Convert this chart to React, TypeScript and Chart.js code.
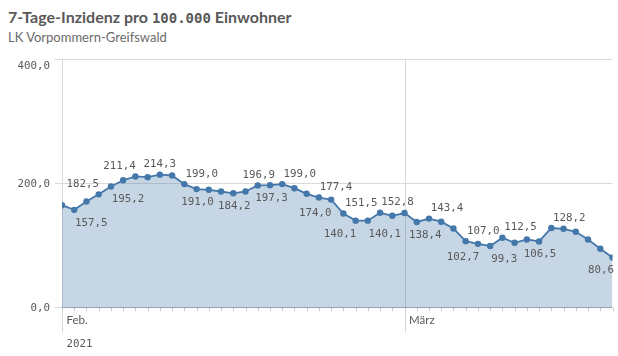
import React, { useEffect, useRef } from 'react';
import { Chart, registerables } from 'chart.js';

Chart.register(...registerables);

// ---------- data ----------
const dates: string[] = [
  '01.02.2021', '02.02.2021', '03.02.2021', '04.02.2021', '05.02.2021', '06.02.2021', '07.02.2021',
  '08.02.2021', '09.02.2021', '10.02.2021', '11.02.2021', '12.02.2021', '13.02.2021', '14.02.2021',
  '15.02.2021', '16.02.2021', '17.02.2021', '18.02.2021', '19.02.2021', '20.02.2021', '21.02.2021',
  '22.02.2021', '23.02.2021', '24.02.2021', '25.02.2021', '26.02.2021', '27.02.2021', '28.02.2021',
  '01.03.2021', '02.03.2021', '03.03.2021', '04.03.2021', '05.03.2021', '06.03.2021', '07.03.2021',
  '08.03.2021', '09.03.2021', '10.03.2021', '11.03.2021', '12.03.2021', '13.03.2021', '14.03.2021',
  '15.03.2021', '16.03.2021', '17.03.2021', '18.03.2021',
];

const incidence: number[] = [
  165.0, 157.5, 171.0, 182.5, 195.2, 205.3, 211.4, 210.2, 214.3, 212.9,
  199.0, 191.0, 189.8, 187.1, 184.2, 187.1, 196.9, 197.3, 199.0, 192.4,
  183.4, 177.4, 174.0, 151.5, 140.1, 140.1, 152.8, 147.9, 152.4, 138.0,
  143.4, 138.4, 127.4, 107.0, 102.7, 99.3, 112.5, 104.4, 109.7, 106.5,
  128.2, 126.9, 122.1, 109.7, 94.7, 80.6,
];

// which points carry a value label, and whether it sits above or below the point
const labelIndex: number[] = [3, 1, 6, 4, 8, 10, 11, 14, 16, 17, 18, 22, 21, 24, 23, 25, 26, 31, 30, 34, 33, 35, 36, 39, 40, 45];
const labelSide: string[] = ['above', 'below', 'above', 'below', 'above', 'above', 'below', 'below', 'above', 'below',
  'above', 'below', 'above', 'below', 'above', 'below', 'above', 'below', 'above', 'below',
  'above', 'below', 'above', 'below', 'above', 'below'];

const yTickValues: number[] = [0, 200, 400];
const monthTickIndex: number[] = [0, 28];
const monthTickLabel: string[] = ['Feb.', 'März'];
const yearLabel = '2021';

const titleStart = '7-Tage-Inzidenz pro ';
const titleNumber = '100.000';
const titleEnd = ' Einwohner';
const subtitle = 'LK Vorpommern-Greifswald';

// ---------- style / layout ----------
const LABEL_NUDGE_PX: number[] = [-16, 17, -16, 17, 0, 17.5, 1, 1, 1, 1.5, 17.5, -16, 17, -15.5, 18, 17, 17.5, -16, 18, -15, 17.5, 14, 18, 1, 18, -11.5];
const TEXT = '#595959';
const LINE = '#4477aa';
const GRID = '#d9d9d9';
const MONO = '"DejaVu Sans Mono", monospace';
const LABEL_FONT = `10.8px ${MONO}`;

const fmt = (v: number) => v.toFixed(1).replace('.', ',');

export default function App() {
  const ref = useRef<HTMLCanvasElement>(null);

  useEffect(() => {
    const canvas = ref.current;
    if (!canvas) return;

    const decor = {
      id: 'decor',
      beforeDatasetsDraw(chart: any) {
        const { ctx, chartArea, scales } = chart;
        const xs = scales.x;
        ctx.save();
        ctx.strokeStyle = GRID;
        ctx.lineWidth = 1;
        monthTickIndex.forEach((i) => {
          const px = Math.round(xs.getPixelForValue(i)) + 0.5;
          ctx.beginPath();
          ctx.moveTo(px, chartArea.top);
          ctx.lineTo(px, chartArea.bottom + 25);
          ctx.stroke();
        });
        ctx.restore();
      },
      afterDatasetsDraw(chart: any) {
        const { ctx, chartArea, scales } = chart;
        const xs = scales.x;
        const ys = scales.y;
        ctx.save();
        // x axis line
        const by = Math.round(chartArea.bottom) - 0.5;
        ctx.strokeStyle = '#93a4b6';
        ctx.lineWidth = 1;
        ctx.beginPath();
        ctx.moveTo(chartArea.left, by);
        ctx.lineTo(chartArea.right, by);
        ctx.stroke();
        // day tick marks
        ctx.strokeStyle = '#c8c8c8';
        dates.forEach((_, i) => {
          const px = Math.round(xs.getPixelForValue(i)) + 0.5;
          ctx.beginPath();
          ctx.moveTo(px, by + 0.5);
          ctx.lineTo(px, by + 3.5);
          ctx.stroke();
        });
        // month labels + year
        ctx.fillStyle = TEXT;
        ctx.textAlign = 'left';
        ctx.textBaseline = 'alphabetic';
        ctx.font = '11.5px Lato';
        monthTickIndex.forEach((i, k) => {
          const px = xs.getPixelForValue(i);
          ctx.fillText(monthTickLabel[k], px + 4.5, chartArea.bottom + 16.5);
        });
        ctx.font = LABEL_FONT;
        ctx.fillText(yearLabel, xs.getPixelForValue(monthTickIndex[0]) + 4.5, chartArea.bottom + 39.5);
        // y axis labels
        ctx.textAlign = 'right';
        yTickValues.forEach((v) => {
          const py = ys.getPixelForValue(v);
          const cy = Math.max(py, chartArea.top + 5.5);
          ctx.fillText(fmt(v), chartArea.left - 12, cy + 3.9);
        });
        // value labels
        ctx.textAlign = 'center';
        labelIndex.forEach((idx, k) => {
          const v = incidence[idx];
          const px = xs.getPixelForValue(idx) + LABEL_NUDGE_PX[k];
          const py = ys.getPixelForValue(v);
          const cy = labelSide[k] === 'above' ? py - 11.3 : py + 12;
          ctx.fillText(fmt(v), px, cy + 3.9);
        });
        ctx.restore();
      },
    };

    const chart = new Chart(canvas, {
      type: 'line',
      data: {
        labels: dates,
        datasets: [
          {
            data: incidence,
            borderColor: LINE,
            borderWidth: 1.8,
            backgroundColor: 'rgba(68,119,170,0.3)',
            fill: 'origin',
            tension: 0,
            pointRadius: 3.2,
            pointBackgroundColor: LINE,
            pointBorderWidth: 0,
            clip: { left: 0, right: 0, top: false, bottom: false } as any,
          },
        ],
      },
      options: {
        responsive: false,
        animation: false,
        devicePixelRatio: 1,
        layout: { padding: { top: 59.5, right: 5.5, left: 0, bottom: 0 } },
        plugins: { legend: { display: false }, tooltip: { enabled: false } },
        scales: {
          x: {
            type: 'category',
            offset: false,
            grid: { display: false },
            border: { display: false },
            ticks: { display: false, autoSkip: false },
            afterFit: (s: any) => { s.height = 48.5; },
          },
          y: {
            min: 0,
            max: 400,
            afterBuildTicks: (s: any) => { s.ticks = yTickValues.map((v) => ({ value: v })); },
            grid: { color: GRID, tickColor: GRID, tickLength: 7, drawTicks: true, lineWidth: 1 },
            border: { display: true, color: '#cccccc' },
            ticks: { display: false },
            afterFit: (s: any) => { s.width = 62; },
          },
        },
      },
      plugins: [decor],
    });

    return () => chart.destroy();
  }, []);

  return (
    <div style={{ position: 'absolute', left: 0, top: 0, width: 618, height: 356, overflow: 'hidden', background: '#fff' }}>
      <div style={{ position: 'absolute', left: 8, top: 7, font: 'bold 16px Lato', lineHeight: '19px', color: TEXT, whiteSpace: 'nowrap' }}>
        {titleStart}
        <span style={{ fontFamily: MONO, fontSize: 14 }}>{titleNumber}</span>
        {titleEnd}
      </div>
      <div style={{ position: 'absolute', left: 8, top: 29, font: '13px Lato', lineHeight: '16px', color: '#6b6b6b', whiteSpace: 'nowrap' }}>
        {subtitle}
      </div>
      <canvas ref={ref} width={618} height={356} style={{ position: 'absolute', left: 0, top: 0, pointerEvents: 'none' }} />
    </div>
  );
}
